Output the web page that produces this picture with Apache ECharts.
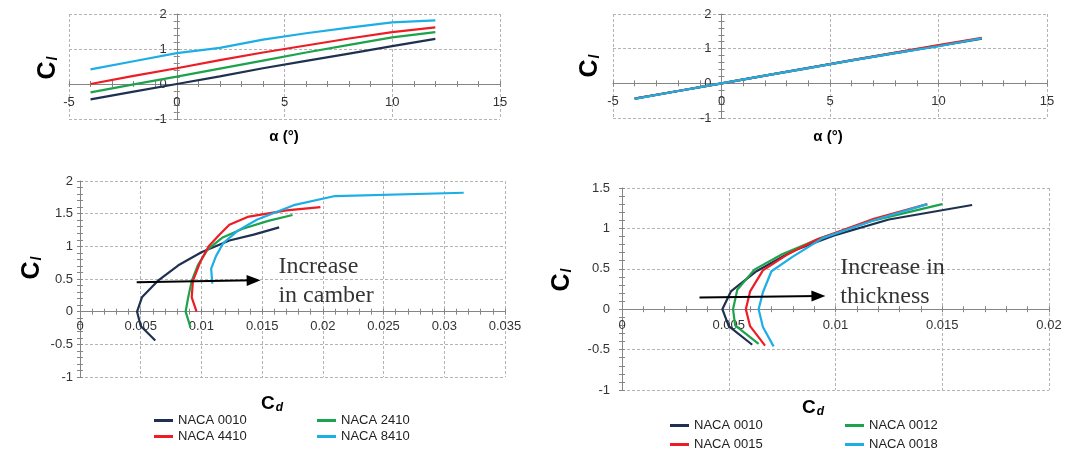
<!DOCTYPE html>
<html><head><meta charset="utf-8">
<script src="https://cdn.jsdelivr.net/npm/echarts@6/dist/echarts.min.js"></script>
<style>html,body{margin:0;padding:0;background:#fff}#c{width:1078px;height:455px}</style>
</head><body><div id="c"></div>
<script>
// ---------- DATA ----------
const alpha = [-4, -2, 0, 2, 4, 6, 8, 10, 12];
// Cl vs alpha, camber family (top-left)
const clAlpha_0010 = [-0.44, -0.22, 0.00, 0.22, 0.45, 0.66, 0.87, 1.08, 1.29];
const clAlpha_2410 = [-0.24, -0.01, 0.21, 0.44, 0.67, 0.90, 1.12, 1.33, 1.48];
const clAlpha_4410 = [0.00, 0.23, 0.45, 0.68, 0.90, 1.10, 1.30, 1.48, 1.62];
const clAlpha_8410 = [0.42, 0.65, 0.88, 1.03, 1.27, 1.45, 1.61, 1.76, 1.82];
// Cl vs alpha, thickness family (top-right)
const clAlpha_0012 = [-0.44, -0.22, 0.00, 0.22, 0.44, 0.66, 0.88, 1.09, 1.30];
const clAlpha_0015 = [-0.44, -0.22, 0.00, 0.22, 0.44, 0.67, 0.89, 1.10, 1.31];
const clAlpha_0018 = [-0.45, -0.22, 0.00, 0.22, 0.44, 0.66, 0.87, 1.07, 1.30];
// Drag polars [Cd, Cl], camber family (bottom-left)
const polarCamber_0010 = [[0.0062,-0.44],[0.0050,-0.22],[0.0047,0.00],[0.0051,0.22],[0.0064,0.47],[0.0081,0.71],[0.0100,0.91],[0.0123,1.09],[0.0143,1.18],[0.0164,1.29]];
const polarCamber_2410 = [[0.0091,-0.24],[0.0087,0.00],[0.0089,0.21],[0.0092,0.47],[0.0097,0.71],[0.0105,0.95],[0.0117,1.13],[0.0134,1.27],[0.0155,1.39],[0.0175,1.48]];
const polarCamber_4410 = [[0.0096,0.00],[0.0092,0.22],[0.0093,0.47],[0.0099,0.76],[0.0106,1.00],[0.0115,1.18],[0.0123,1.33],[0.0138,1.45],[0.0170,1.55],[0.0198,1.60]];
const polarCamber_8410 = [[0.0109,0.43],[0.0108,0.66],[0.0112,0.85],[0.0118,1.05],[0.0130,1.24],[0.0146,1.41],[0.0176,1.63],[0.0210,1.77],[0.0316,1.82]];
// Drag polars [Cd, Cl], thickness family (bottom-right)
const polarThick_0010 = [[0.0061,-0.44],[0.0050,-0.21],[0.0047,0.00],[0.0051,0.22],[0.0063,0.47],[0.0080,0.72],[0.0099,0.91],[0.0125,1.11],[0.0164,1.29]];
const polarThick_0012 = [[0.0064,-0.43],[0.0053,-0.20],[0.0052,0.00],[0.0054,0.24],[0.0062,0.49],[0.0075,0.68],[0.0092,0.87],[0.0118,1.10],[0.0150,1.30]];
const polarThick_0015 = [[0.0067,-0.45],[0.0060,-0.21],[0.0058,0.00],[0.0060,0.22],[0.0066,0.48],[0.0077,0.67],[0.0091,0.86],[0.0118,1.12],[0.0143,1.30]];
const polarThick_0018 = [[0.0071,-0.46],[0.0066,-0.22],[0.0064,0.00],[0.0066,0.21],[0.0070,0.47],[0.0080,0.65],[0.0094,0.88],[0.0118,1.10],[0.0143,1.30]];
// Annotation arrows and notes
const camberArrow = [[0.00467, 0.45], [0.0143, 0.48]];
const thickArrow = [[0.00363, 0.144], [0.0092, 0.163]];
const camberNote = { text: 'Increase\nin camber', at: [0.0163, 0.46] };
const thickNote = { text: 'Increase in\nthickness', at: [0.0102, 0.34] };
// Names
const namesCamber = ['NACA 0010', 'NACA 2410', 'NACA 4410', 'NACA 8410'];
const namesThick = ['NACA 0010', 'NACA 0012', 'NACA 0015', 'NACA 0018'];
// Axis ranges [min, max, interval]
const xRanges = [[-5, 15, 5], [-5, 15, 5], [0, 0.035, 0.005], [0, 0.02, 0.005]];
const yRanges = [[-1, 2, 1], [-1, 2, 1], [-1, 2, 0.5], [-1, 1.5, 0.5]];

// ---------- STYLE ----------
const COLORS = {
  'NACA 0010': '#1f3151', 'NACA 2410': '#1ea24c', 'NACA 4410': '#ee1c24', 'NACA 8410': '#1eaee6',
  'NACA 0012': '#1ea24c', 'NACA 0015': '#ee1c24', 'NACA 0018': '#1eaee6'
};
const FONT = 'Liberation Sans';
const GRIDS = [
  { left: 69, top: 14, width: 431, height: 105 },
  { left: 613, top: 14, width: 434, height: 104 },
  { left: 80, top: 181, width: 425, height: 196 },
  { left: 622, top: 188, width: 427, height: 202 }
];
const xMargins = [12, 12, 8, 10];
const yMargins = [10, 10, 7, 12];
const AX = '#858585';
const N = GRIDS.length;

const xAxes = [], yAxes = [];
// grids 0..N-1: axis lines, outward ticks, labels, series
// grids N..2N-1 (same boxes): dashed gridlines and inward ticks (drawn beneath)
const allGrids = GRIDS.concat(GRIDS).map(g => Object.assign({ containLabel: false }, g));
for (let k = 0; k < 2 * N; k++) {
  const i = k % N, overlay = k >= N, g = GRIDS[i];
  const [xmin, xmax, xi] = xRanges[i];
  const [ymin, ymax, yi] = yRanges[i];
  // place each axis on the other axis' zero
  const xOff = -g.height * (0 - ymin) / (ymax - ymin);
  const yOff = -g.width * (0 - xmin) / (xmax - xmin);
  const tick = { show: true, inside: overlay, length: 3, lineStyle: { color: AX } };
  const minor = { show: true, splitNumber: 5, length: 3, lineStyle: { color: AX } };
  const split = { show: overlay, lineStyle: { type: [3, 2], color: '#b4b4b4', width: 1 } };
  const lab = (m) => ({ show: !overlay, margin: m, fontSize: 13, color: '#333', fontFamily: FONT });
  const z = overlay ? 0 : 1;
  xAxes.push({ type: 'value', gridIndex: k, z, min: xmin, max: xmax, interval: xi, position: 'bottom', offset: xOff,
    axisLine: { show: !overlay, onZero: false, lineStyle: { color: AX, width: 1 } }, axisTick: tick, minorTick: minor,
    axisLabel: lab(xMargins[i]), splitLine: split });
  yAxes.push({ type: 'value', gridIndex: k, z, min: ymin, max: ymax, interval: yi, position: 'left', offset: yOff,
    axisLine: { show: !overlay, onZero: false, lineStyle: { color: AX, width: 1 } }, axisTick: tick, minorTick: minor,
    axisLabel: lab(yMargins[i]), splitLine: split });
}

const zip = (xs, ys) => xs.map((x, k) => [x, ys[k]]);
function curve(name, data, gi) {
  return { type: 'line', name, data, xAxisIndex: gi, yAxisIndex: gi, showSymbol: false, symbol: 'none',
    lineStyle: { width: 2.2, color: COLORS[name] }, itemStyle: { color: COLORS[name] }, z: 3, silent: true };
}
function arrow(pts, gi) {
  return { type: 'line', data: [], xAxisIndex: gi, yAxisIndex: gi, z: 6, silent: true,
    markLine: { silent: true, symbol: ['none', 'triangle'], symbolSize: [11, 14], animation: false,
      label: { show: false }, lineStyle: { color: '#000', width: 2, type: 'solid' },
      data: [[{ coord: pts[0] }, { coord: pts[1] }]] } };
}
function note(n, gi) {
  return { type: 'scatter', xAxisIndex: gi, yAxisIndex: gi, symbolSize: 1, silent: true, z: 7,
    itemStyle: { color: 'rgba(0,0,0,0)' },
    label: { show: true, position: 'right', distance: 0, formatter: '{b}', fontFamily: 'Liberation Serif',
      fontSize: 24, lineHeight: 29, color: '#000', align: 'left' },
    data: [{ name: n.text, value: n.at }] };
}

const series = [
  curve('NACA 0010', zip(alpha, clAlpha_0010), 0),
  curve('NACA 2410', zip(alpha, clAlpha_2410), 0),
  curve('NACA 4410', zip(alpha, clAlpha_4410), 0),
  curve('NACA 8410', zip(alpha, clAlpha_8410), 0),
  curve('NACA 0010', zip(alpha, clAlpha_0010), 1),
  curve('NACA 0012', zip(alpha, clAlpha_0012), 1),
  curve('NACA 0015', zip(alpha, clAlpha_0015), 1),
  curve('NACA 0018', zip(alpha, clAlpha_0018), 1),
  curve('NACA 0010', polarCamber_0010, 2),
  curve('NACA 2410', polarCamber_2410, 2),
  curve('NACA 4410', polarCamber_4410, 2),
  curve('NACA 8410', polarCamber_8410, 2),
  curve('NACA 0010', polarThick_0010, 3),
  curve('NACA 0012', polarThick_0012, 3),
  curve('NACA 0015', polarThick_0015, 3),
  curve('NACA 0018', polarThick_0018, 3),
  arrow(camberArrow, 2), arrow(thickArrow, 3),
  note(camberNote, 2), note(thickNote, 3)
];

// legends: one item each, two rows of two
const legendPos = [
  [namesCamber[0], 154, 414], [namesCamber[1], 317, 414], [namesCamber[2], 154, 430], [namesCamber[3], 317, 430],
  [namesThick[0], 670, 419], [namesThick[1], 845, 419], [namesThick[2], 670, 438], [namesThick[3], 845, 438]
];
const legends = legendPos.map(([n, l, t]) => ({
  data: [{ name: n, itemStyle: { color: COLORS[n] } }], left: l, top: t, padding: 0, icon: 'rect', itemWidth: 19, itemHeight: 3,
  selectedMode: false, textStyle: { fontSize: 13, color: '#222', fontFamily: FONT }
}));

// axis titles
const clTitle = (x, y) => ({ type: 'text', x, y, rotation: Math.PI / 2, silent: true,
  style: { text: '{c|C}{s|l}', align: 'center', verticalAlign: 'middle', fill: '#000',
    rich: { c: { fontFamily: FONT, fontWeight: 'bold', fontSize: 25, fill: '#000' },
            s: { fontFamily: FONT, fontWeight: 'bold', fontStyle: 'italic', fontSize: 14, fill: '#000', verticalAlign: 'bottom', padding: [10, 0, 0, 1] } } } });
const cdTitle = (x, y) => ({ type: 'text', x, y, silent: true,
  style: { text: '{c|C}{s|d}', align: 'center', verticalAlign: 'middle', fill: '#000',
    rich: { c: { fontFamily: FONT, fontWeight: 'bold', fontSize: 19, fill: '#000' },
            s: { fontFamily: FONT, fontWeight: 'bold', fontStyle: 'italic', fontSize: 12, fill: '#000', verticalAlign: 'bottom', padding: [8, 0, 0, 1] } } } });
const alphaTitle = (x, y) => ({ type: 'text', x, y, silent: true,
  style: { text: 'α (°)', align: 'center', verticalAlign: 'middle', fill: '#000',
    fontFamily: FONT, fontWeight: 'bold', fontSize: 15 } });

const chart = echarts.init(document.getElementById('c'), null, { renderer: 'canvas' });
chart.setOption({
  animation: false,
  backgroundColor: '#fff',
  grid: allGrids,
  xAxis: xAxes,
  yAxis: yAxes,
  legend: legends,
  series,
  graphic: [
    clTitle(48, 68), alphaTitle(284, 137),
    clTitle(590, 66), alphaTitle(828, 137),
    clTitle(32, 268), cdTitle(272, 404),
    clTitle(562, 280), cdTitle(813, 408)
  ]
});
</script></body></html>
